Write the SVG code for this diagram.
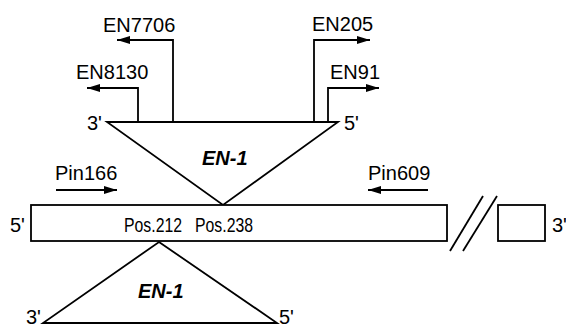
<svg xmlns="http://www.w3.org/2000/svg" width="566" height="329" viewBox="0 0 566 329">
<style>
text{font-family:"Liberation Sans",Arial,sans-serif;font-size:20px;fill:#000}
.b{font-weight:bold;font-style:italic}
.ln{fill:none;stroke:#000;stroke-width:1.8}
.sh{fill:#fff;stroke:#000;stroke-width:1.8;stroke-linejoin:miter}
</style>
<defs>
<marker id="ah" markerUnits="userSpaceOnUse" markerWidth="14" markerHeight="10" refX="13" refY="5" orient="auto">
<path d="M0,1 L13,5 L0,9 Z" fill="#000"/>
</marker>
</defs>
<rect width="566" height="329" fill="#fff"/>
<g id="insert-top">
<polygon class="sh" points="107,122 338,122 223,205"/>
<text class="b" x="202" y="165">EN-1</text>
<text x="87" y="130">3'</text>
<text x="344" y="130">5'</text>
</g>
<g id="gene">
<rect class="sh" x="31" y="205" width="416" height="36"/>
<rect class="sh" x="498" y="205" width="47" height="36"/>
<line class="ln" x1="450" y1="251" x2="483" y2="196"/>
<line class="ln" x1="463" y1="251" x2="497" y2="196"/>
<text x="10" y="232">5'</text>
<text x="552" y="232">3'</text>
<text x="124" y="232" textLength="58" lengthAdjust="spacingAndGlyphs">Pos.212</text>
<text x="195" y="232" textLength="58" lengthAdjust="spacingAndGlyphs">Pos.238</text>
</g>
<g id="insert-bottom">
<polygon class="sh" points="159,242 277,323 43,323"/>
<text class="b" x="138" y="298">EN-1</text>
<text x="26" y="324">3'</text>
<text x="279" y="324">5'</text>
</g>
<g id="labels">
<text x="103" y="32">EN7706</text>
<text x="76" y="79">EN8130</text>
<text x="312" y="31">EN205</text>
<text x="330" y="79">EN91</text>
<text x="55" y="180">Pin166</text>
<text x="368" y="180">Pin609</text>
</g>
<g id="connectors">
<polyline class="ln" points="173,122 173,40 117,40" marker-end="url(#ah)"/>
<polyline class="ln" points="138,122 138,88 87,88" marker-end="url(#ah)"/>
<polyline class="ln" points="314,122 314,40 370,40" marker-end="url(#ah)"/>
<polyline class="ln" points="328,122 328,88 379,88" marker-end="url(#ah)"/>
<line class="ln" x1="56" y1="190" x2="117" y2="190" marker-end="url(#ah)"/>
<line class="ln" x1="428" y1="190" x2="368" y2="190" marker-end="url(#ah)"/>
</g>
</svg>
